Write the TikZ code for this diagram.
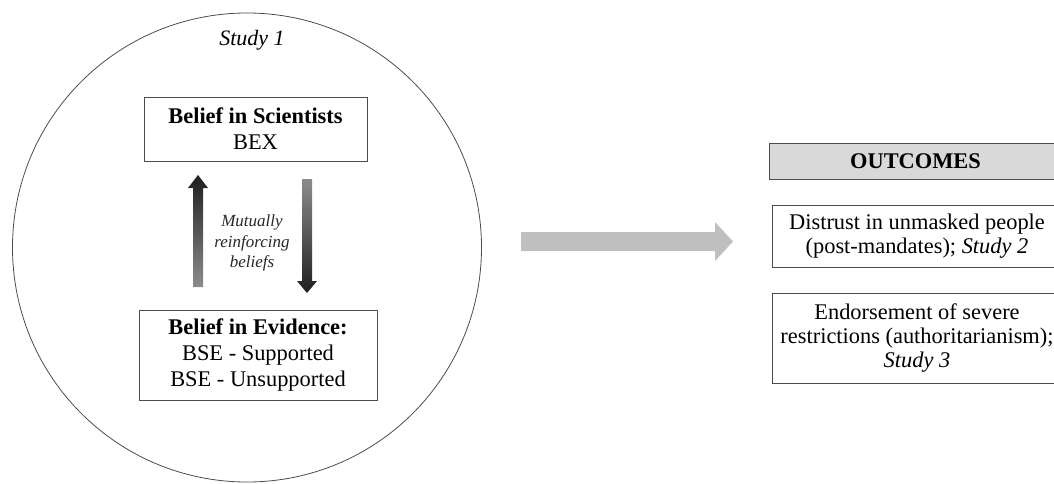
\documentclass[tikz,border=0pt]{standalone}
\usepackage{fontspec}
\setmainfont{Liberation Serif}
\usetikzlibrary{positioning}

\tikzset{
  box/.style={draw=black!70, line width=0.7pt, align=center, inner sep=0pt,
    font=\fontsize{22.4}{26}\selectfont},
  outbox/.style={box, font=\fontsize{22.4}{24}\selectfont},
}

\begin{document}
\begin{tikzpicture}[x=1pt, y=-1pt]
			%%%%% START %%%%%
			\useasboundingbox (0,0) rectangle (1054,483);
			
			\draw[black!70, line width=0.8pt] (247,247.5) circle (234.5);
			\node[font=\fontsize{22}{24}\selectfont\itshape] (study) at (252,40) {Study 1};
			
			\node[box, minimum width=223, minimum height=64] (bex) at (255.5,129)
				{\textbf{Belief in Scientists}\\BEX};
			\node[box, minimum width=238, minimum height=90] (bse) at (258,355)
				{\textbf{Belief in Evidence:}\\BSE - Supported\\BSE - Unsupported};
			
			\coordinate (uptail) at (198,287);
			\coordinate (uptip) at (198,175);
			\coordinate (dntail) at (307,179);
			\coordinate (dntip) at (307,293);
			
			\shade[top color=black!88, bottom color=black!45] (uptail) ++(-5,0) -- ++(0,-99) -- ++(-5,0)
				-- (uptip) -- ++(10,13) -- ++(-5,0) -- ++(0,99) -- cycle;
			\shade[top color=black!45, bottom color=black!88] (dntail) ++(-5,0) -- ++(0,102) -- ++(-5,0)
				-- (dntip) -- ++(10,-12) -- ++(-5,0) -- ++(0,-102) -- cycle;
			
			\node[font=\fontsize{17}{20.5}\selectfont\itshape, align=center, black!85] (mutual) at (252,243)
				{Mutually\\reinforcing\\beliefs};
			
			\coordinate (flowtail) at (521,241.5);
			\coordinate (flowtip) at (733,241.5);
			\fill[black!25] (flowtail) ++(0,-9.5) -- ++(194,0) -- ++(0,-10) -- (flowtip)
				-- ++(-18,19.5) -- ++(0,-10) -- ++(-194,0) -- cycle;
			
			\node[box, fill=black!15, minimum width=293, minimum height=36] (outcomes) at (915.5,161)
				{\textbf{OUTCOMES}};
			\node[outbox, minimum width=290, minimum height=62] (distrust) at (917,236)
				{Distrust in unmasked people\\(post-mandates); \textit{Study 2}};
			\node[outbox, minimum width=290, minimum height=90] (endorse) at (917,338)
				{Endorsement of severe\\restrictions (authoritarianism);\\\textit{Study 3}};
			
			%%%%% END %%%%%
\end{tikzpicture}
\end{document}
